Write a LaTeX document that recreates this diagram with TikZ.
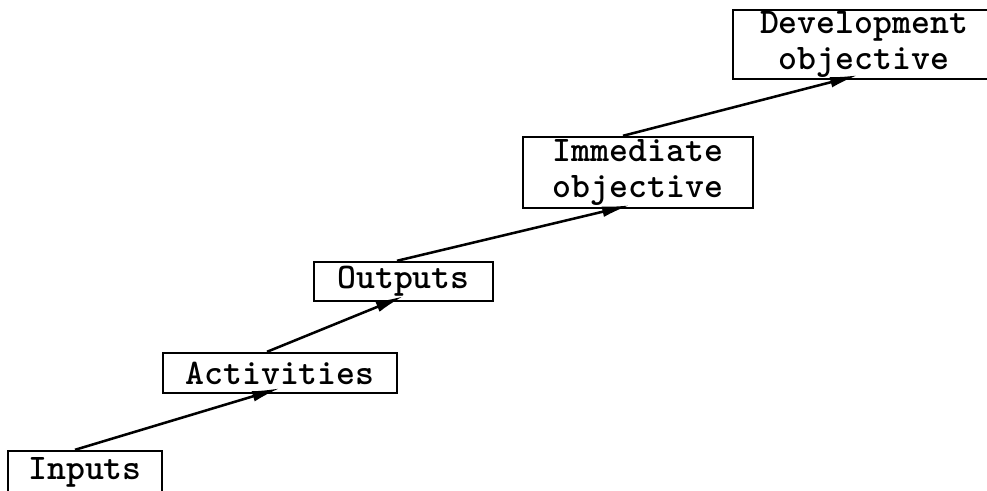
\documentclass[tikz,border=0pt]{standalone}
\usetikzlibrary{arrows.meta}

\tikzset{
  box/.style={draw, line width=1.8pt, inner sep=0pt, align=center,
    font=\ttfamily\bfseries\fontsize{27}{26.5}\selectfont},
  link/.style={line width=1.9pt, -{Latex[length=21pt,width=8pt]}}
}

\begin{document}
\begin{tikzpicture}[x=0.75pt,y=0.75pt,yscale=-1,xscale=1]
\useasboundingbox (0,0) rectangle (987,490);
\clip (0,0) rectangle (987,490);

%Shape: Rectangle [inputs]
\node [box, minimum width=115.5pt, minimum height=31.5pt] (inputs) at (85,472) {Inputs};
%Shape: Rectangle [activities]
\node [box, minimum width=175.5pt, minimum height=30pt] (activities) at (280,373) {Activities};
%Shape: Rectangle [outputs]
\node [box, minimum width=134.25pt, minimum height=29.25pt] (outputs) at (403.5,281.5) {Outputs};
%Shape: Rectangle [immediate]
\node [box, minimum width=172.5pt, minimum height=53.25pt] (immediate) at (638,172.5) {Immediate\\objective};
%Shape: Rectangle [development]
\node [box, minimum width=196.5pt, minimum height=51.75pt] (development) at (864,44.5) {Development\\objective};

%Straight Lines
\draw [link] ([xshift=-7.5pt]inputs.north) -- ([yshift=-4.5pt]activities.south);
\draw [link] ([xshift=-9.75pt]activities.north) -- ([yshift=-4.5pt]outputs.south);
\draw [link] ([xshift=-4.9pt]outputs.north) -- ([xshift=-6pt,yshift=-3pt]immediate.south);
\draw [link] ([xshift=-11.25pt]immediate.north) -- ([xshift=-4.5pt,yshift=-3.75pt]development.south);

\end{tikzpicture}
\end{document}
